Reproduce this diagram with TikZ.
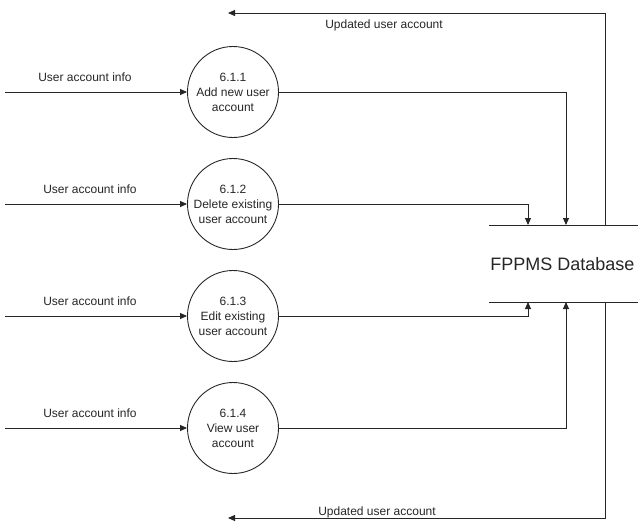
\documentclass[tikz,border=0pt]{standalone}
\usepackage{fontspec}
\setmainfont{Liberation Sans}
\usepackage{tikz}
\usetikzlibrary{arrows.meta}

\tikzset{
  proc/.style={draw,circle,minimum size=91pt,inner sep=0pt,align=center,font=\fontsize{12}{15}\selectfont},
  lbl/.style={font=\fontsize{12}{14}\selectfont},
  flow/.style={-{Triangle[length=7pt,width=6pt]}},
}

\begin{document}
\begin{tikzpicture}[x=1pt,y=-1pt,line width=0.9pt,color=black!85]
\useasboundingbox (0,0) rectangle (638,523);
% processes
\node[proc] (p1) at (233,92) {6.1.1\\Add new user\\account};
\node[proc] (p2) at (233,204) {6.1.2\\Delete existing\\user account};
\node[proc] (p3) at (233,316) {6.1.3\\Edit existing\\user account};
\node[proc] (p4) at (233,428) {6.1.4\\View user\\account};
% data store
\draw (489,225) -- (638,225);
\draw (489,302) -- (638,302);
\node[anchor=west,inner sep=0pt,font=\fontsize{18}{20}\selectfont] (db) at (490,264) {FPPMS Database};
\coordinate (dbA) at (528,225);
\coordinate (dbB) at (566,225);
\coordinate (dbC) at (528,302);
\coordinate (dbD) at (566,302);
\coordinate (dbE) at (605,225);
\coordinate (dbF) at (605,302);
% inputs
\coordinate (in1) at (5,92);
\coordinate (in2) at (5,204);
\coordinate (in3) at (5,316);
\coordinate (in4) at (5,428);
\draw[flow] (in1) -- (p1);
\draw[flow] (in2) -- (p2);
\draw[flow] (in3) -- (p3);
\draw[flow] (in4) -- (p4);
\node[lbl] (l1) at (85,77) {User account info};
\node[lbl] (l2) at (90,189) {User account info};
\node[lbl] (l3) at (90,301) {User account info};
\node[lbl] (l4) at (90,413) {User account info};
% to the database
\draw[flow] (p1.east) -| (dbB);
\draw[flow] (p2.east) -| (dbA);
\draw[flow] (p3.east) -| (dbC);
\draw[flow] (p4.east) -| (dbD);
% updated accounts
\coordinate (outT) at (228,13);
\coordinate (outB) at (228,518);
\draw[flow] (dbE) |- (outT);
\draw[flow] (dbF) |- (outB);
\node[lbl] (u1) at (384,25) {Updated user account};
\node[lbl] (u2) at (377,512) {Updated user account};
\end{tikzpicture}
\end{document}
